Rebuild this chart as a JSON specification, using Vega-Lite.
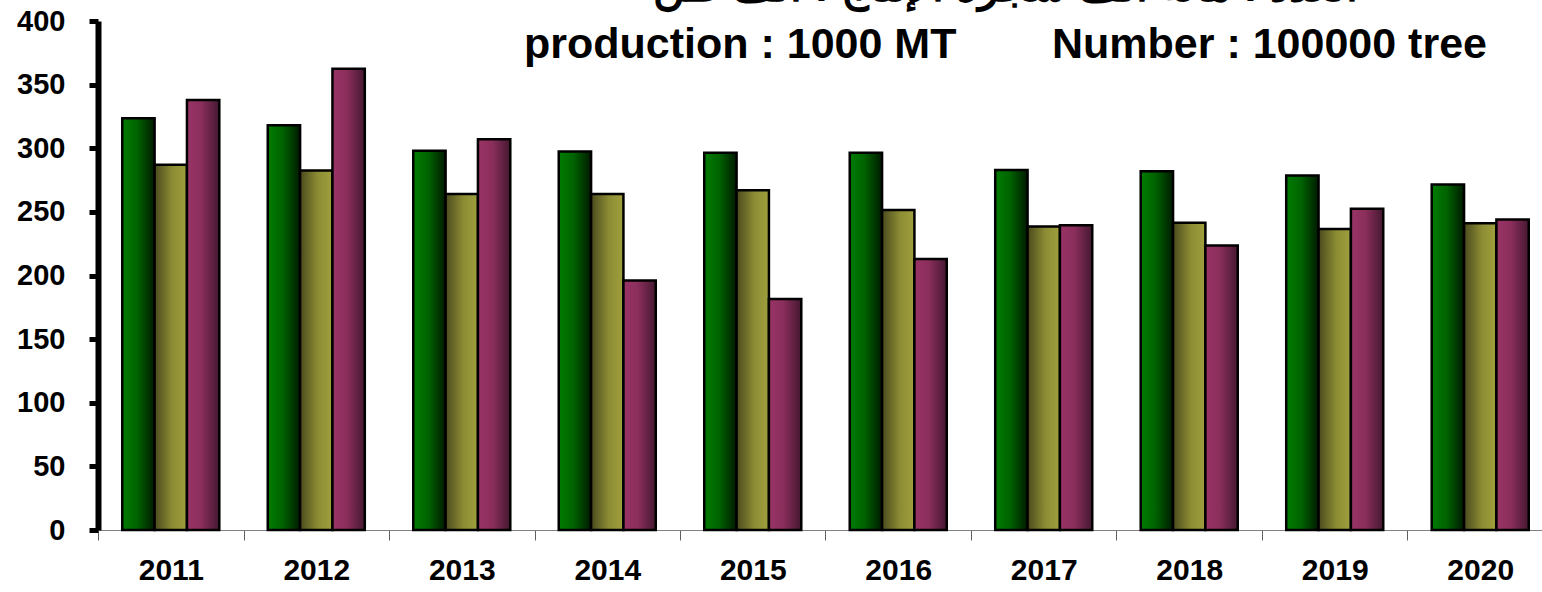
{
  "$schema": "https://vega.github.io/schema/vega-lite/v6.json",
  "autosize": {"type": "none"},
  "padding": {"left": 98, "top": 21, "right": 0, "bottom": 62},
  "width": 1455,
  "height": 509,
  "background": "white",
  "config": {
    "view": {"stroke": null},
    "font": "Liberation Sans"
  },
  "title": {
    "text": ["العدد : مائة ألف شجرة          الإنتاج : ألف طن", "production : 1000 MT\u00a0\u00a0\u00a0\u00a0\u00a0\u00a0\u00a0\u00a0Number : 100000 tree"],
    "orient": "top",
    "anchor": "middle",
    "frame": "group",
    "baseline": "alphabetic",
    "offset": 0,
    "dx": 180,
    "dy": 94,
    "lineHeight": 57,
    "fontSize": 43,
    "fontWeight": "bold",
    "font": "Liberation Sans",
    "color": "black"
  },
  "data": {
    "values": [
      {"year": "2011", "series": "Area", "value": 323.5},
      {"year": "2011", "series": "Production", "value": 287},
      {"year": "2011", "series": "Number", "value": 338},
      {"year": "2012", "series": "Area", "value": 318},
      {"year": "2012", "series": "Production", "value": 282.5},
      {"year": "2012", "series": "Number", "value": 362.5},
      {"year": "2013", "series": "Area", "value": 298},
      {"year": "2013", "series": "Production", "value": 264},
      {"year": "2013", "series": "Number", "value": 307},
      {"year": "2014", "series": "Area", "value": 297.5},
      {"year": "2014", "series": "Production", "value": 264},
      {"year": "2014", "series": "Number", "value": 196},
      {"year": "2015", "series": "Area", "value": 296.5},
      {"year": "2015", "series": "Production", "value": 267},
      {"year": "2015", "series": "Number", "value": 181.5},
      {"year": "2016", "series": "Area", "value": 296.5},
      {"year": "2016", "series": "Production", "value": 251.5},
      {"year": "2016", "series": "Number", "value": 213},
      {"year": "2017", "series": "Area", "value": 283},
      {"year": "2017", "series": "Production", "value": 238.5},
      {"year": "2017", "series": "Number", "value": 239.5},
      {"year": "2018", "series": "Area", "value": 282},
      {"year": "2018", "series": "Production", "value": 241.5},
      {"year": "2018", "series": "Number", "value": 223.5},
      {"year": "2019", "series": "Area", "value": 278.5},
      {"year": "2019", "series": "Production", "value": 236.5},
      {"year": "2019", "series": "Number", "value": 252.5},
      {"year": "2020", "series": "Area", "value": 271.5},
      {"year": "2020", "series": "Production", "value": 241},
      {"year": "2020", "series": "Number", "value": 244}
    ]
  },
  "encoding": {
    "x": {
      "field": "year", "type": "nominal", "title": null,
      "scale": {"paddingInner": 0.333, "paddingOuter": 0.1667},
      "axis": {
        "labelAngle": 0,
        "labelFontSize": 30,
        "labelFontWeight": "bold",
        "labelColor": "black",
        "labelPadding": 15,
        "domainColor": "#808080",
        "domainWidth": 1,
        "tickColor": "#606060",
        "tickSize": 10,
        "tickWidth": 1,
        "tickOffset": -72.75,
        "labelOffset": 72.75,
        "grid": false
      }
    },
    "xOffset": {
      "field": "series", "type": "nominal",
      "scale": {"domain": ["Area", "Production", "Number"], "paddingInner": 0, "paddingOuter": 0}
    },
    "y": {
      "field": "value", "type": "quantitative", "title": null,
      "scale": {"domain": [0, 400], "nice": false},
      "axis": {
        "values": [0, 50, 100, 150, 200, 250, 300, 350, 400],
        "labelFontSize": 29,
        "labelFontWeight": "bold",
        "labelColor": "black",
        "labelPadding": 24,
        "domainColor": "black",
        "domainWidth": 6,
        "tickColor": "black",
        "tickSize": 9,
        "tickWidth": 5,
        "grid": false
      }
    }
  },
  "layer": [
    {
      "transform": [{"filter": "datum.series === 'Area'"}],
      "mark": {
        "type": "bar", "stroke": "black", "strokeWidth": 2.5,
        "fill": {"gradient": "linear", "x1": 0, "y1": 0, "x2": 1, "y2": 0,
          "stops": [{"offset": 0, "color": "#007c00"}, {"offset": 0.45, "color": "#006400"}, {"offset": 1, "color": "#001a00"}]}
      }
    },
    {
      "transform": [{"filter": "datum.series === 'Production'"}],
      "mark": {
        "type": "bar", "stroke": "black", "strokeWidth": 2.5,
        "fill": {"gradient": "linear", "x1": 0, "y1": 0, "x2": 1, "y2": 0,
          "stops": [{"offset": 0, "color": "#4a4a1e"}, {"offset": 0.55, "color": "#8c8c34"}, {"offset": 1, "color": "#a0a03e"}]}
      }
    },
    {
      "transform": [{"filter": "datum.series === 'Number'"}],
      "mark": {
        "type": "bar", "stroke": "black", "strokeWidth": 2.5,
        "fill": {"gradient": "linear", "x1": 0, "y1": 0, "x2": 1, "y2": 0,
          "stops": [{"offset": 0, "color": "#9a3466"}, {"offset": 0.45, "color": "#8a2e5c"}, {"offset": 1, "color": "#441830"}]}
      }
    }
  ]
}
